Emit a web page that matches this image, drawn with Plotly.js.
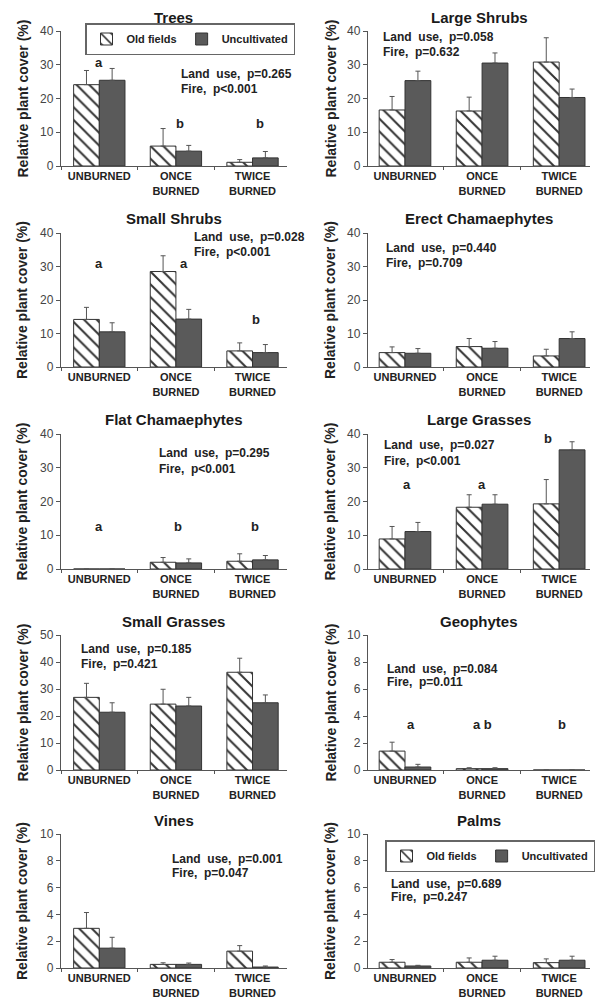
<!DOCTYPE html>
<html><head><meta charset="utf-8">
<script src="https://cdn.plot.ly/plotly-3.0.1.min.js"></script>
<style>body{margin:0;background:#fff}#chart{width:604px;height:1000px}</style>
</head><body><div id="chart"></div>
<script>
// ---------------- data ----------------
const categories = ['UNBURNED', 'ONCE<br>BURNED', 'TWICE<br>BURNED'];
const seriesNames = ['Old fields', 'Uncultivated'];
const panelTitles = ['Trees', 'Large Shrubs', 'Small Shrubs', 'Erect Chamaephytes',
  'Flat Chamaephytes', 'Large Grasses', 'Small Grasses', 'Geophytes', 'Vines', 'Palms'];

const oldFieldsMean = [
  [24.1, 5.9, 1.1], [16.6, 16.3, 30.8], [14.2, 28.5, 4.8], [4.3, 6.1, 3.3], [0, 2.0, 2.3],
  [8.9, 18.3, 19.3], [26.9, 24.4, 36.2], [1.4, 0.1, 0], [2.96, 0.27, 1.26], [0.43, 0.43, 0.4]];
const oldFieldsErr = [
  [4.2, 5.2, 0.8], [4.0, 4.1, 7.2], [3.6, 4.7, 2.4], [1.7, 2.4, 2.0], [0, 1.4, 2.2],
  [3.7, 3.7, 7.2], [5.2, 5.5, 5.2], [0.66, 0.07, 0], [1.18, 0.12, 0.41], [0.2, 0.32, 0.28]];
const uncultMean = [
  [25.4, 4.4, 2.4], [25.3, 30.5, 20.3], [10.5, 14.3, 4.3], [4.1, 5.6, 8.5], [0, 1.8, 2.7],
  [11.1, 19.2, 35.3], [21.4, 23.7, 24.9], [0.22, 0.1, 0], [1.48, 0.27, 0.07], [0.15, 0.58, 0.58]];
const uncultErr = [
  [3.5, 1.7, 1.9], [2.8, 3.0, 2.5], [2.7, 2.9, 2.4], [1.4, 2.0, 2.0], [0, 1.2, 1.3],
  [2.7, 2.8, 2.4], [3.5, 3.2, 2.9], [0.2, 0.07, 0], [0.81, 0.1, 0.08], [0.05, 0.3, 0.3]];

const yAxisMax = [40, 40, 40, 40, 40, 40, 50, 10, 10, 10];
const yTickStep = [10, 10, 10, 10, 10, 10, 10, 2, 2, 2];

const landUseP = ['p=0.265', 'p=0.058', 'p=0.028', 'p=0.440', 'p=0.295',
  'p=0.027', 'p=0.185', 'p=0.084', 'p=0.001', 'p=0.689'];
const fireP = ['p<0.001', 'p=0.632', 'p<0.001', 'p=0.709', 'p<0.001',
  'p<0.001', 'p=0.421', 'p=0.011', 'p=0.047', 'p=0.247'];

const sigLetters = [['a', 'b', 'b'], [], ['a', 'a', 'b'], [], ['a', 'b', 'b'],
  ['a', 'a', 'b'], [], ['a', 'a b', 'b'], [], []];

// ---------------- layout config (positions) ----------------
const W = 604, H = 1000;
const colPx = [[61, 287], [368, 590]];
const colRange = [[-0.5, 2.45], [-0.48, 2.4]];
const rowTop = [31, 233, 434, 635, 834];
const rowBottom = [166, 367, 569, 770, 968];
const statX = [0.522, 0.059, 0.58, 0.072, 0.425, 0.063, 0.08, 0.077, 0.482, 0.095];
const statY = [[27.2, 22.7], [38.3, 33.7], [38.8, 34.2], [35.5, 31.1], [34.4, 29.7],
  [36.8, 32.1], [44.7, 39.3], [7.5, 6.5], [8.13, 7.07], [6.3, 5.3]];
const letterY = [[30.8, 12.7, 12.7], [], [31, 31, 14.3], [], [12.6, 12.6, 12.6],
  [25, 25, 38.7], [], [3.4, 3.4, 3.4], [], []];
const letterDx = [[0, 0.05, 0.1], [], [0, 0.1, 0.05], [], [0, 0.03, 0.03],
  [0.03, 0, -0.15], [], [0.08, 0, 0.04], [], []];

const FONT = 'Liberation Sans, Arial, Helvetica, sans-serif';
const DARK = '#5a5a5a';

const legendStyle = {
  orientation: 'h', xanchor: 'left', yanchor: 'middle',
  bordercolor: '#666', borderwidth: 1.5, bgcolor: '#fff',
  font: {size: 11, weight: 'bold', color: '#222'}, itemwidth: 30,
  tracegroupgap: 0
};

const traces = [];
const layout = {
  width: W, height: H,
  margin: {l: 0, r: 0, t: 0, b: 0},
  paper_bgcolor: '#ffffff', plot_bgcolor: 'rgba(0,0,0,0)',
  barmode: 'group', bargap: 0.33, bargroupgap: 0,
  font: {family: FONT, color: '#222'},
  showlegend: true,
  hovermode: false,
  annotations: [],
  legend: Object.assign({}, legendStyle, {x: 85 / W, y: 1 - 39 / H}),
  legend2: Object.assign({}, legendStyle, {x: 385 / W, y: 1 - 856 / H})
};

for (let i = 0; i < 10; i++) {
  const col = i % 2, row = Math.floor(i / 2);
  const sfx = i === 0 ? '' : String(i + 1);
  const xa = 'x' + sfx, ya = 'y' + sfx;
  const [x0, x1] = colPx[col];
  layout['xaxis' + sfx] = {
    domain: [x0 / W, x1 / W], anchor: ya, type: 'category',
    range: colRange[col], showline: true, linecolor: '#555', linewidth: 1.2,
    ticks: 'outside', tickson: 'boundaries', ticklen: 3, tickcolor: '#555',
    tickfont: {size: 11, weight: 'bold', color: '#222'},
    showgrid: false, zeroline: false, fixedrange: true
  };
  layout['yaxis' + sfx] = {
    domain: [1 - rowBottom[row] / H, 1 - rowTop[row] / H], anchor: xa,
    range: [0, yAxisMax[i]], tick0: 0, dtick: yTickStep[i],
    showline: true, linecolor: '#555', linewidth: 1.2,
    ticks: 'outside', ticklen: 4, tickcolor: '#555',
    tickfont: {size: 12, color: '#444'},
    showgrid: false, zeroline: false, fixedrange: true
  };
  const legendName = i === 9 ? 'legend2' : 'legend';
  const showLeg = (i === 0 || i === 9);
  traces.push({
    type: 'bar', name: seriesNames[0], x: categories, y: oldFieldsMean[i],
    xaxis: xa, yaxis: ya, legend: legendName, showlegend: showLeg,
    marker: {color: '#fff', line: {color: '#333', width: 1},
      pattern: {shape: '\\', fgcolor: '#333', bgcolor: '#fff', size: 9, solidity: 0.22}},
    error_y: {type: 'data', array: oldFieldsErr[i], symmetric: false, arrayminus: [0, 0, 0],
      color: '#555', thickness: 1, width: 2.5}
  });
  traces.push({
    type: 'bar', name: seriesNames[1], x: categories, y: uncultMean[i],
    xaxis: xa, yaxis: ya, legend: legendName, showlegend: showLeg,
    marker: {color: DARK, line: {color: '#333', width: 1}},
    error_y: {type: 'data', array: uncultErr[i], symmetric: false, arrayminus: [0, 0, 0],
      color: '#555', thickness: 1, width: 2.5}
  });

  // panel title
  layout.annotations.push({
    xref: 'paper', yref: 'paper', x: (x0 + x1) / 2 / W, y: 1 - (rowTop[row] - 14) / H,
    xanchor: 'center', yanchor: 'middle', showarrow: false,
    text: panelTitles[i], font: {size: 15, weight: 'bold', color: '#1a1a1a'}
  });
  // y axis title
  layout.annotations.push({
    xref: 'paper', yref: 'paper', x: (col === 0 ? 22 : 330) / W,
    y: 1 - (rowTop[row] + rowBottom[row]) / 2 / H,
    xanchor: 'center', yanchor: 'middle', showarrow: false, textangle: -90,
    text: 'Relative plant cover (%)', font: {size: 14, weight: 'bold', color: '#222'}
  });
  // statistics
  layout.annotations.push({
    xref: xa + ' domain', yref: ya, x: statX[i], y: statY[i][0],
    xanchor: 'left', yanchor: 'middle', showarrow: false,
    text: 'Land\u00a0 use,\u00a0 ' + landUseP[i], font: {size: 12, weight: 'bold', color: '#222'}
  });
  layout.annotations.push({
    xref: xa + ' domain', yref: ya, x: statX[i], y: statY[i][1],
    xanchor: 'left', yanchor: 'middle', showarrow: false,
    text: 'Fire,\u00a0 ' + fireP[i], font: {size: 12, weight: 'bold', color: '#222'}
  });
  // significance letters
  sigLetters[i].forEach((t, k) => {
    layout.annotations.push({
      xref: xa, yref: ya, x: k + letterDx[i][k], y: letterY[i][k],
      xanchor: 'center', yanchor: 'middle', showarrow: false,
      text: t, font: {size: 13, weight: 'bold', color: '#222'}
    });
  });
}

Plotly.newPlot('chart', traces, layout, {staticPlot: true, displayModeBar: false});
</script>
</body></html>
